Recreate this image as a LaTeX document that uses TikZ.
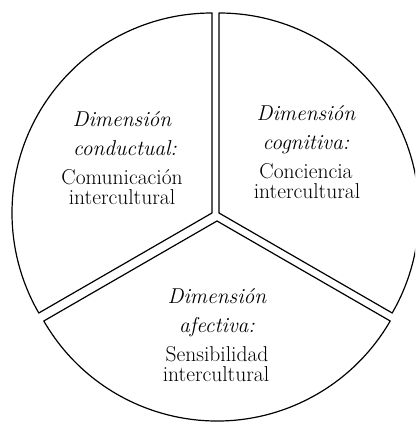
\documentclass[tikz,border=0pt]{standalone}
\usepackage{fontspec}
\begin{document}
\begin{tikzpicture}[x=1pt,y=1pt]
		\tikzset{sector/.style={line width=1.2pt, line join=round, fill=white},
			lbl/.style={anchor=base, inner sep=0pt, font=\fontsize{21.5}{22}\selectfont}}
		\useasboundingbox (0,0) rectangle (415,423);
		\clip (0,0) rectangle (415,423);
		\coordinate (CL) at (212,210);
		\coordinate (CR) at (219,210);
		\coordinate (CB) at (217,202);
		\draw [sector] (CL) -- ++(90:200) arc (90:210:200) -- cycle;
		\draw [sector] (CR) -- ++(90:200) arc (90:-30:200) -- cycle;
		\draw [sector] (CB) -- ++(210:200) arc (210:330:200) -- cycle;
		\node[lbl] (cond1) at (122,296) {\itshape Dimensión};
		\node[lbl] (cond2) at (125,267) {\itshape conductual:};
		\node[lbl] (cond3) at (122,238) {Comunicación};
		\node[lbl] (cond4) at (122,218) {intercultural};
		\node[lbl] (cogn1) at (306,302) {\itshape Dimensión};
		\node[lbl] (cogn2) at (306,273) {\itshape cognitiva:};
		\node[lbl] (cogn3) at (306,244) {Conciencia};
		\node[lbl] (cogn4) at (307,224) {intercultural};
		\node[lbl] (afec1) at (217,119) {\itshape Dimensión};
		\node[lbl] (afec2) at (217,90) {\itshape afectiva:};
		\node[lbl] (afec3) at (217,61) {Sensibilidad};
		\node[lbl] (afec4) at (216,41) {intercultural};
	\end{tikzpicture}
\end{document}
